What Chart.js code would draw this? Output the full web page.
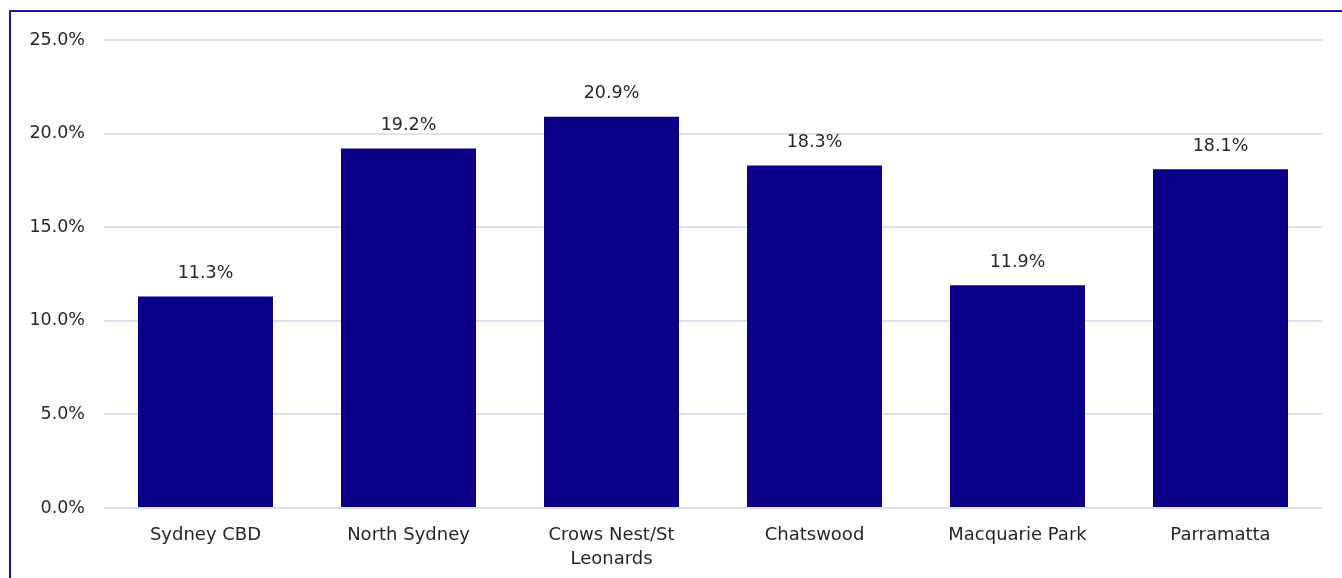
<!DOCTYPE html>
<html>
<head>
<meta charset="utf-8">
<script src="https://cdn.jsdelivr.net/npm/chart.js@4/dist/chart.umd.min.js"></script>
<style>
  html, body { margin: 0; padding: 0; background: #fff; }
  #wrap { position: relative; width: 1342px; height: 578px; overflow: hidden; }
  #frame { position: absolute; left: 9px; top: 10px; width: 1400px; height: 600px;
           border-left: 2px solid #1c149c; border-top: 2px solid #1c149c; pointer-events: none; }
  canvas { position: absolute; left: 0; top: 0; }
</style>
</head>
<body>
<div id="wrap">
  <canvas id="c" width="1342" height="578"></canvas>
  <div id="frame"></div>
</div>
<script>
const categories = ["Sydney CBD", "North Sydney", ["Crows Nest/St", "Leonards"], "Chatswood", "Macquarie Park", "Parramatta"];
const values = [11.3, 19.2, 20.9, 18.3, 11.9, 18.1];
const yTicks = [0, 5, 10, 15, 20, 25];

const FONT = "'DejaVu Sans', sans-serif";
const TEXT = '#262626';

const valueLabels = {
  id: 'valueLabels',
  afterDatasetsDraw(chart) {
    const ctx = chart.ctx;
    const meta = chart.getDatasetMeta(0);
    ctx.save();
    ctx.font = "17.5px " + FONT;
    ctx.fillStyle = TEXT;
    ctx.textAlign = 'center';
    ctx.textBaseline = 'middle';
    meta.data.forEach((bar, i) => {
      ctx.fillText(values[i].toFixed(1) + '%', bar.x, bar.y - 23);
    });
    ctx.restore();
  }
};

new Chart(document.getElementById('c'), {
  type: 'bar',
  data: {
    labels: categories,
    datasets: [{
      data: values,
      backgroundColor: '#0c0089',
      barPercentage: 0.665,
      categoryPercentage: 1.0
    }]
  },
  options: {
    responsive: false,
    animation: false,
    layout: { padding: { top: 40, right: 20, left: 0, bottom: 0 } },
    plugins: { legend: { display: false }, tooltip: { enabled: false } },
    scales: {
      x: {
        grid: { display: false },
        border: { display: false },
        ticks: { color: TEXT, font: { family: FONT, size: 18, lineHeight: 1.33 }, padding: 7, maxRotation: 0 },
        afterFit(scale) { scale.height = 70; }
      },
      y: {
        min: 0, max: 25,
        afterBuildTicks(scale) { scale.ticks = yTicks.map(v => ({ value: v })); },
        grid: { color: '#dedef0', lineWidth: 2, drawTicks: false },
        border: { display: false },
        ticks: { color: TEXT, font: { family: FONT, size: 17.5 }, padding: 19,
                 callback: v => Number(v).toFixed(1) + '%' },
        afterFit(scale) { scale.width = 104; }
      }
    }
  },
  plugins: [valueLabels]
});
</script>
</body>
</html>
